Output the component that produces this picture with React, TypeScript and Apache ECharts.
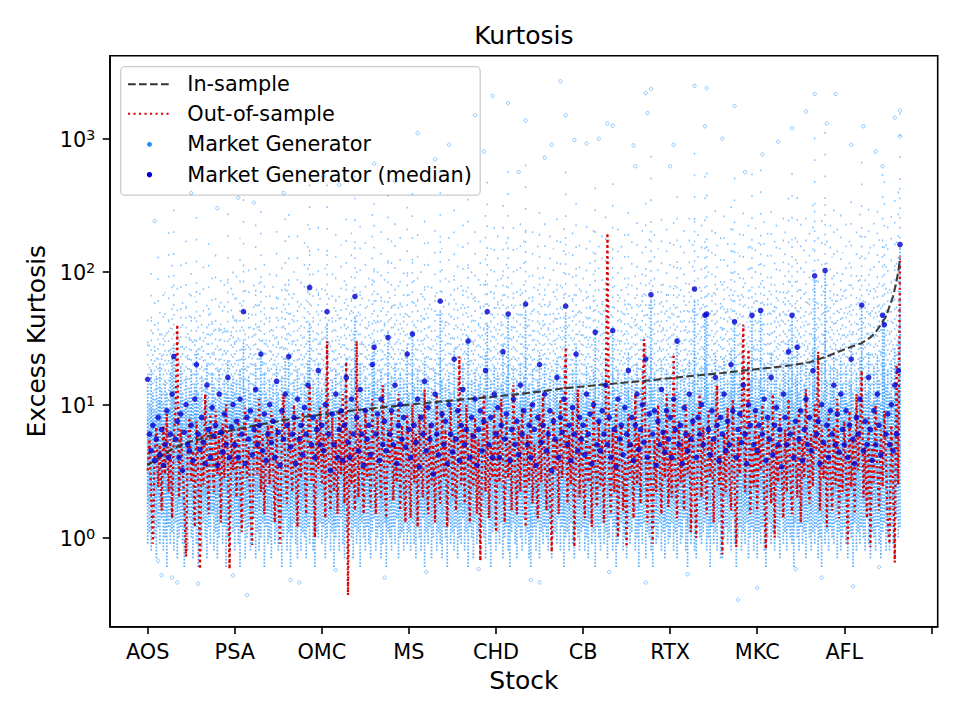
import React, { useEffect, useRef } from "react";
import * as echarts from "echarts";

const FONT = "'DejaVu Sans', 'Liberation Sans', sans-serif";

// x ticks: stock names at every 50th stock
const tickStocks = ["AOS", "PSA", "OMC", "MS", "CHD", "CB", "RTX", "MKC", "AFL"];
const tickIndex = [0, 50, 100, 150, 200, 250, 300, 350, 400];
const xTickValues = [0, 50, 100, 150, 200, 250, 300, 350, 400, 450];
const yMajor = [1, 10, 100, 1000];
const yMinor = [0.3, 0.4, 0.5, 0.6, 0.7, 0.8, 0.9, 2, 3, 4, 5, 6, 7, 8, 9, 20, 30, 40, 50, 60, 70, 80, 90, 200, 300, 400, 500, 600, 700, 800, 900, 2000, 3000, 4000];

// In-sample excess kurtosis (stocks are sorted by it) : [stock index, value]
const inSample: [number, number][] = [
  [0, 3.5], [5, 3.9], [10, 4.3], [15, 4.7], [20, 5.0], [25, 5.3], [30, 5.5], [35, 5.8], [40, 6.0], [45, 6.3],
  [50, 6.5], [60, 6.9], [70, 7.3], [80, 7.7], [90, 8.1], [100, 8.4], [110, 8.8], [120, 9.1], [130, 9.4], [140, 9.7],
  [150, 10.0], [160, 10.3], [170, 10.6], [180, 10.9], [190, 11.2], [200, 11.5], [210, 11.9], [220, 12.3], [230, 12.8], [240, 13.3],
  [250, 13.7], [260, 14.1], [270, 14.5], [280, 14.9], [290, 15.3], [300, 15.8], [310, 16.3], [320, 16.8], [330, 17.3], [340, 17.9],
  [350, 18.5], [360, 19.1], [370, 19.8], [380, 20.8], [390, 23.0], [395, 24.5], [400, 26], [405, 27.5], [410, 29], [415, 32],
  [418, 35], [421, 40], [424, 46], [426, 55], [428, 65], [430, 85], [431, 100], [432, 125],
];

// Out-of-sample excess kurtosis, one per stock (433)
const outOfSample = [
  3.2, 5.5, 2.0, 0.9, 4.5, 6.8, 2.4, 5.0, 1.6, 7.0,
  3.0, 8.5, 2.2, 5.5, 1.4, 6.0, 9.0, 40, 2.0, 6.5,
  3.5, 1.8, 0.72, 5.0, 8.0, 2.6, 4.5, 1.2, 7.5, 3.0,
  0.58, 6.0, 2.5, 12, 3.8, 1.5, 8.5, 4.2, 2.2, 9.0,
  3.0, 5.8, 1.3, 7.2, 2.8, 10, 4.0, 0.58, 6.5, 3.2,
  5.5, 2.0, 7.8, 3.5, 1.1, 6.2, 9.5, 2.8, 4.8, 1.6,
  0.88, 5.2, 8.0, 3.0, 11, 2.2, 6.0, 1.5, 4.2, 7.0,
  2.5, 9.0, 3.8, 1.3, 6.8, 2.0, 0.9, 5.5, 12, 3.2,
  1.8, 7.5, 4.0, 2.2, 10, 3.5, 1.2, 6.2, 2.8, 8.8,
  4.5, 1.5, 6.0, 14, 2.6, 5.0, 1.0, 7.8, 3.3, 9.5,
  2.5, 6.0, 1.4, 30, 3.0, 1.6, 8.0, 2.2, 5.5, 1.5,
  9.0, 3.0, 12, 1.8, 21, 0.37, 6.5, 2.5, 4.8, 1.6,
  30, 2.0, 7.0, 3.5, 1.5, 9.5, 2.8, 5.2, 1.7, 11,
  3.2, 1.5, 8.0, 4.0, 2.0, 14, 2.6, 1.4, 6.5, 3.5,
  9.0, 1.9, 5.0, 2.6, 12, 1.6, 7.0, 3.0, 1.3, 8.5,
  3.5, 1.4, 10, 2.6, 6.0, 1.2, 8.5, 3.5, 2.0, 13,
  4.0, 1.5, 7.2, 2.5, 5.0, 1.3, 12, 3.0, 1.8, 9.0,
  2.8, 6.5, 1.2, 4.8, 9.5, 2.0, 5.8, 1.6, 3.5, 23,
  2.5, 7.0, 1.8, 10, 3.6, 1.3, 6.2, 2.4, 8.0, 1.5,
  5.5, 0.67, 4.0, 12, 2.2, 7.5, 1.4, 5.0, 2.8, 9.0,
  1.1, 6.5, 2.6, 11, 3.5, 1.3, 8.0, 2.8, 5.5, 1.6,
  14, 3.2, 1.5, 7.0, 2.2, 9.5, 4.0, 1.2, 6.0, 2.5,
  10, 1.8, 5.0, 3.0, 1.4, 8.5, 2.6, 12, 3.5, 1.6,
  6.8, 2.2, 0.78, 9.0, 3.2, 5.5, 1.5, 11, 2.8, 4.6,
  27, 1.8, 6.0, 2.5, 9.0, 0.85, 4.5, 13, 2.0, 6.5,
  3.0, 1.4, 8.0, 2.6, 5.0, 1.2, 11, 3.5, 1.7, 7.5,
  2.4, 5.5, 1.3, 9.0, 195, 3.0, 1.5, 6.5, 2.2, 10,
  1.0, 4.5, 7.0, 1.6, 3.8, 0.85, 8.5, 2.8, 5.2, 1.4,
  12, 2.5, 6.0, 1.8, 9.0, 31, 4.0, 1.3, 7.0, 2.6,
  0.9, 5.5, 2.2, 10, 3.6, 1.5, 6.5, 2.8, 12, 1.7,
  4.5, 2.0, 24, 3.2, 1.4, 7.5, 2.6, 5.5, 1.6, 10,
  3.0, 6.2, 1.1, 8.5, 2.4, 1.0, 5.0, 12, 2.0, 6.8,
  3.5, 1.5, 9.0, 2.8, 5.5, 1.3, 7.0, 14, 2.5, 4.2,
  0.75, 6.0, 2.2, 9.5, 3.2, 1.6, 11, 2.6, 0.85, 5.8,
  3.0, 8.0, 40, 2.2, 6.5, 26, 1.5, 4.8, 2.4, 9.0,
  1.6, 6.0, 3.2, 10, 2.0, 0.82, 7.5, 4.0, 1.8, 12,
  1.0, 5.0, 2.6, 8.5, 3.5, 1.4, 6.5, 2.2, 11, 3.0,
  1.5, 7.0, 4.2, 2.0, 9.5, 1.3, 5.5, 2.8, 13, 3.6,
  1.8, 6.0, 2.4, 10, 4.5, 25, 1.6, 7.0, 2.8, 5.2,
  1.2, 8.5, 3.0, 1.6, 6.8, 2.5, 11, 1.4, 4.5, 2.2,
  7.5, 3.0, 0.9, 9.0, 2.4, 5.5, 1.5, 12, 3.2, 6.0,
  18, 2.0, 4.8, 1.4, 8.0, 0.85, 5.0, 2.6, 10, 3.2,
  1.6, 6.5, 2.4, 9.0, 3.5, 1.3, 0.9, 7.0, 2.8, 0.65,
  20, 2.5, 130,
];

// Market Generator median per stock (433)
const generatorMedian = [
  15.5, 6.0, 4.5, 7.0, 3.8, 5.5, 8.0, 4.2, 6.5, 3.5,
  5.0, 9.0, 4.0, 6.0, 12, 23, 5.5, 7.5, 4.0, 8.5,
  3.2, 6.2, 10, 5.0, 4.5, 7.0, 3.8, 11, 20, 6.0,
  4.6, 8.0, 5.2, 3.6, 14, 6.5, 4.0, 9.5, 5.8, 7.0,
  3.5, 12, 6.2, 4.4, 8.5, 5.0, 16, 4.0, 6.8, 10,
  5.0, 7.5, 4.0, 11, 6.0, 50, 3.6, 8.0, 5.5, 9.0,
  4.2, 6.5, 13, 5.0, 7.0, 24, 4.5, 8.5, 3.8, 6.0,
  10, 5.2, 7.5, 4.0, 15, 6.2, 3.5, 9.0, 5.5, 12,
  7.0, 23, 4.8, 6.0, 8.0, 3.6, 11, 5.5, 7.0, 4.2,
  9.5, 6.0, 14, 76, 5.0, 8.0, 4.0, 6.5, 18, 5.0,
  7.0, 4.5, 10, 50, 6.0, 3.2, 8.5, 5.0, 12, 4.0,
  6.5, 9.0, 3.8, 7.0, 16, 5.2, 4.0, 11, 6.0, 65,
  8.0, 4.5, 13, 6.0, 3.5, 9.0, 5.5, 7.0, 4.2, 20,
  27, 6.0, 8.5, 3.8, 11, 5.0, 7.5, 4.5, 32, 6.0,
  9.0, 5.0, 14, 3.6, 7.0, 10, 5.5, 8.0, 4.8, 24,
  6.5, 4.0, 34, 7.0, 5.2, 11, 3.4, 8.0, 6.0, 15,
  4.5, 9.5, 5.5, 7.0, 3.0, 12, 6.0, 4.2, 60, 8.5,
  5.0, 7.5, 3.6, 10, 6.0, 4.4, 22, 5.5, 9.0, 3.8,
  7.0, 13, 5.0, 6.5, 30, 4.0, 8.0, 5.8, 11, 3.5,
  6.5, 9.0, 4.5, 7.5, 18, 50, 5.0, 8.0, 4.0, 12,
  6.0, 9.5, 4.0, 7.0, 25, 5.5, 8.5, 48, 3.8, 6.5,
  11, 5.0, 7.5, 4.2, 14, 6.0, 9.0, 57, 5.0, 7.0,
  4.0, 10, 6.5, 3.5, 8.0, 20, 5.2, 7.0, 12, 4.5,
  6.0, 9.0, 3.2, 7.5, 5.5, 16, 4.0, 8.0, 6.2, 11,
  55, 5.0, 7.0, 3.8, 9.5, 6.0, 24, 4.5, 8.0, 5.5,
  7.0, 4.2, 12, 6.0, 8.5, 3.6, 10, 35, 5.0, 7.5,
  4.5, 9.0, 6.0, 14, 5.0, 8.0, 4.0, 36, 6.5, 3.4,
  11, 5.5, 7.0, 4.2, 9.5, 6.0, 18, 5.0, 8.0, 3.8,
  7.0, 12, 4.6, 6.5, 10, 5.2, 22, 4.0, 8.5, 67,
  6.0, 9.0, 3.5, 7.5, 5.0, 13, 6.2, 4.4, 9.0, 5.5,
  8.0, 4.0, 11, 6.5, 30, 5.0, 7.0, 3.6, 9.5, 6.0,
  4.5, 12, 5.5, 7.5, 74, 4.0, 8.0, 6.0, 10, 5.0,
  47, 48, 6.5, 4.2, 9.0, 5.5, 16, 7.0, 3.8, 8.0,
  6.0, 12, 4.5, 7.5, 5.0, 20, 9.0, 42, 4.0, 6.5,
  8.5, 5.2, 14, 6.0, 3.6, 10, 7.0, 47, 5.0, 9.0,
  4.5, 7.0, 51, 6.0, 11, 3.8, 8.0, 5.5, 16, 4.2,
  7.0, 9.5, 5.0, 6.5, 3.4, 12, 8.0, 5.0, 25, 6.0,
  47, 4.0, 7.5, 27, 5.5, 9.0, 3.8, 6.5, 11, 5.0,
  8.0, 4.5, 18, 93, 6.0, 7.5, 3.6, 10, 5.2, 102,
  7.0, 4.0, 9.0, 6.0, 14, 5.0, 8.5, 4.4, 12, 6.5,
  5.0, 9.0, 4.0, 7.0, 22, 5.5, 3.6, 8.0, 6.0, 11,
  56, 4.5, 7.5, 5.0, 16, 6.5, 3.8, 9.0, 5.0, 12,
  7.0, 4.2, 47, 40, 6.0, 8.5, 5.0, 10, 4.5, 14,
  6.0, 18, 160,
];

// Market Generator samples per stock: lowest sample, top of the dense band, highest sample
const cloudLow = [
  0.9, 1.1, 0.8, 1.3, 1.0, 0.7, 1.2, 0.9, 1.4, 0.8,
  1.0, 0.6, 1.2, 0.9, 1.1, 0.8, 1.3, 0.7, 1.0, 1.2,
  0.9, 0.6, 1.1, 0.8, 1.4, 1.0, 0.7, 1.2, 0.9, 0.6,
  1.1, 0.8, 1.3, 1.0, 0.7, 1.2, 0.9, 1.5, 0.8, 1.1,
  0.7, 1.0, 1.3, 0.9, 1.2, 0.6, 1.0, 0.8, 1.4, 1.1,
  0.8, 1.2, 0.9, 0.6, 1.1, 1.3, 0.7, 1.0, 1.2, 0.8,
  0.9, 1.4, 0.7, 1.1, 0.8, 1.0, 1.3, 0.6, 1.2, 0.9,
  1.0, 0.7, 1.3, 0.9, 1.1, 0.8, 1.2, 0.6, 1.0, 1.4,
  0.8, 1.1, 0.6, 1.0, 1.3, 0.9, 0.7, 1.2, 0.8, 1.1,
  1.0, 0.7, 1.2, 0.9, 1.4, 0.8, 0.6, 1.1, 1.0, 1.3,
  0.9, 1.2, 0.7, 1.0, 1.3, 0.8, 1.1, 0.6, 1.0, 1.2,
  0.8, 1.4, 0.9, 0.7, 1.1, 0.8, 1.3, 1.0, 0.7, 1.2,
  0.9, 1.1, 0.6, 1.3, 1.0, 0.8, 1.2, 0.9, 0.7, 1.1,
  1.4, 0.8, 1.0, 1.2, 0.7, 0.9, 1.3, 0.6, 1.1, 1.0,
  0.8, 1.2, 0.9, 1.4, 0.7, 1.0, 1.1, 0.8, 1.3, 0.9,
  1.1, 0.8, 1.3, 0.9, 0.7, 1.2, 1.0, 0.8, 1.4, 0.6,
  1.1, 0.9, 1.2, 0.7, 1.0, 1.3, 0.8, 1.1, 0.9, 0.7,
  1.2, 1.0, 0.6, 1.3, 0.9, 1.1, 0.8, 1.2, 0.7, 1.0,
  0.9, 1.4, 0.8, 1.1, 0.6, 1.2, 1.0, 0.7, 1.3, 0.9,
  1.1, 0.8, 1.2, 1.0, 0.7, 1.4, 0.9, 0.6, 1.1, 1.2,
  0.8, 1.1, 0.9, 1.3, 0.7, 1.0, 1.2, 0.8, 0.6, 1.1,
  1.3, 0.9, 0.7, 1.2, 1.0, 0.8, 1.4, 0.9, 1.1, 0.7,
  0.6, 1.0, 1.2, 0.8, 1.3, 0.7, 1.1, 0.9, 1.2, 1.0,
  0.8, 1.3, 0.7, 1.0, 1.1, 0.9, 1.4, 0.8, 1.2, 0.6,
  1.0, 1.1, 0.8, 1.3, 0.9, 0.7, 1.2, 1.0, 0.8, 1.1,
  1.2, 0.8, 1.0, 0.7, 1.3, 0.9, 1.1, 0.6, 1.2, 1.0,
  0.8, 1.3, 0.9, 1.1, 0.7, 1.0, 1.4, 0.8, 1.2, 0.6,
  0.9, 1.1, 1.3, 0.8, 1.0, 0.7, 1.2, 0.9, 1.1, 1.4,
  0.8, 1.0, 0.6, 1.2, 0.9, 1.3, 0.7, 1.1, 1.0, 0.8,
  0.6, 1.2, 0.9, 1.0, 1.3, 0.8, 1.1, 0.7, 1.2, 0.9,
  1.0, 1.3, 0.8, 1.1, 0.7, 1.2, 0.9, 1.0, 1.4, 0.8,
  0.6, 1.1, 0.9, 1.3, 0.8, 0.7, 1.2, 1.0, 0.9, 1.1,
  1.3, 0.8, 1.0, 0.6, 1.2, 0.9, 1.1, 0.8, 1.3, 0.7,
  0.7, 1.0, 1.2, 0.9, 1.1, 0.8, 1.4, 0.9, 0.6, 1.0,
  1.2, 0.8, 1.1, 0.9, 1.3, 0.7, 1.0, 1.2, 0.8, 1.1,
  0.7, 1.1, 0.9, 1.2, 0.8, 0.6, 1.0, 1.3, 0.9, 1.1,
  0.8, 1.2, 1.0, 0.7, 1.4, 0.9, 1.1, 0.8, 1.2, 1.0,
  0.9, 0.6, 1.3, 1.0, 0.8, 1.2, 0.9, 1.1, 0.7, 1.3,
  1.0, 0.8, 1.1, 0.9, 1.2, 0.7, 1.0, 0.6, 1.3, 0.9,
  1.1, 0.8, 1.2, 1.0, 0.9, 1.3, 0.7, 1.1, 0.8, 1.0,
  1.2, 0.9, 0.7, 1.1, 1.0, 0.6, 1.3, 0.8, 1.1, 0.9,
  1.2, 1.0, 0.8, 1.4, 0.9, 0.7, 1.1, 1.0, 0.8, 1.2,
  0.9, 0.7, 1.1, 1.3, 0.8, 1.0, 0.8, 1.2, 0.9, 0.7,
  1.4, 1.0, 1.2,
];

const cloudHigh = [
  14, 10, 18, 12, 9, 16, 11, 20, 13, 10,
  15, 12, 9, 17, 22, 28, 11, 14, 10, 19,
  12, 9, 16, 11, 13, 18, 10, 14, 25, 12,
  11, 16, 9, 13, 20, 12, 10, 17, 14, 11,
  9, 18, 13, 10, 15, 12, 21, 11, 14, 16,
  12, 15, 10, 18, 11, 30, 13, 9, 16, 12,
  10, 14, 20, 11, 13, 25, 10, 17, 12, 9,
  15, 11, 14, 10, 19, 12, 9, 16, 11, 22,
  13, 24, 10, 12, 15, 9, 18, 11, 14, 10,
  16, 12, 21, 40, 11, 15, 10, 13, 20, 12,
  13, 10, 16, 40, 12, 9, 15, 11, 18, 10,
  12, 16, 9, 14, 22, 11, 10, 18, 13, 45,
  15, 10, 20, 12, 9, 16, 11, 14, 10, 24,
  30, 12, 15, 9, 18, 11, 14, 10, 35, 12,
  16, 11, 20, 9, 13, 17, 11, 15, 10, 28,
  12, 10, 35, 14, 11, 18, 9, 15, 12, 22,
  10, 16, 11, 13, 9, 18, 12, 10, 50, 15,
  11, 14, 9, 17, 12, 10, 26, 11, 16, 9,
  13, 20, 11, 12, 32, 10, 15, 12, 18, 9,
  14, 16, 10, 13, 24, 40, 11, 15, 10, 19,
  13, 17, 11, 14, 28, 12, 16, 45, 10, 13,
  19, 11, 15, 10, 20, 12, 16, 50, 11, 14,
  10, 18, 13, 9, 15, 24, 11, 14, 20, 10,
  13, 17, 9, 15, 12, 22, 10, 16, 13, 19,
  48, 11, 14, 10, 18, 12, 28, 10, 15, 12,
  14, 10, 19, 12, 16, 9, 18, 36, 11, 15,
  10, 17, 13, 22, 12, 16, 10, 38, 13, 9,
  18, 12, 15, 10, 17, 13, 24, 11, 16, 9,
  14, 20, 11, 13, 18, 12, 28, 10, 16, 60,
  13, 17, 9, 15, 11, 21, 13, 10, 18, 12,
  16, 10, 20, 13, 32, 12, 15, 9, 18, 13,
  10, 21, 12, 15, 60, 10, 17, 13, 19, 11,
  45, 46, 14, 10, 18, 12, 24, 15, 9, 16,
  13, 22, 10, 15, 12, 26, 18, 42, 10, 14,
  17, 12, 23, 13, 9, 19, 15, 45, 11, 18,
  11, 15, 48, 13, 20, 9, 17, 12, 24, 10,
  15, 19, 11, 14, 9, 21, 17, 12, 30, 13,
  46, 10, 16, 30, 12, 19, 9, 14, 21, 11,
  17, 10, 26, 85, 13, 16, 9, 20, 12, 95,
  15, 10, 19, 13, 24, 11, 18, 10, 22, 14,
  12, 19, 10, 15, 28, 12, 9, 17, 13, 22,
  55, 11, 16, 12, 24, 14, 10, 19, 12, 23,
  15, 10, 46, 40, 14, 18, 12, 21, 11, 26,
  14, 30, 150,
];

const cloudTop = [
  60, 35, 110, 45, 80, 30, 150, 55, 40, 95,
  70, 45, 200, 38, 120, 300, 50, 85, 42, 140,
  60, 35, 180, 48, 75, 110, 40, 65, 260, 55,
  90, 45, 130, 35, 70, 220, 50, 100, 42, 160,
  38, 75, 120, 55, 90, 48, 350, 40, 85, 130,
  70, 120, 45, 180, 60, 400, 85, 40, 140, 55,
  48, 95, 250, 60, 110, 320, 42, 160, 75, 38,
  130, 55, 90, 45, 210, 70, 36, 150, 62, 280,
  85, 300, 50, 72, 140, 40, 190, 58, 105, 46,
  170, 66, 240, 500, 60, 130, 44, 88, 230, 70,
  90, 45, 150, 500, 70, 38, 130, 55, 200, 48,
  75, 160, 40, 110, 280, 60, 50, 210, 85, 600,
  140, 52, 240, 70, 40, 170, 58, 120, 46, 300,
  350, 65, 140, 42, 220, 55, 115, 48, 400, 72,
  180, 60, 260, 44, 100, 190, 58, 135, 50, 330,
  80, 46, 420, 110, 60, 200, 40, 140, 75, 260,
  50, 170, 62, 95, 38, 230, 85, 48, 650, 150,
  58, 120, 42, 190, 80, 46, 320, 64, 160, 40,
  100, 250, 55, 90, 380, 44, 140, 70, 220, 38,
  115, 180, 50, 105, 290, 550, 60, 150, 48, 240,
  100, 200, 55, 120, 350, 80, 170, 700, 45, 110,
  240, 60, 150, 48, 260, 85, 180, 800, 62, 130,
  50, 220, 95, 40, 160, 320, 58, 125, 260, 48,
  105, 200, 40, 150, 75, 280, 50, 175, 95, 230,
  650, 60, 140, 46, 210, 80, 380, 52, 165, 90,
  120, 46, 250, 75, 180, 40, 230, 500, 60, 160,
  50, 200, 90, 300, 70, 185, 48, 550, 100, 40,
  240, 72, 160, 50, 210, 95, 320, 62, 175, 42,
  130, 270, 58, 110, 230, 82, 380, 48, 190, 900,
  100, 210, 42, 150, 64, 290, 105, 50, 240, 80,
  170, 50, 270, 100, 420, 80, 160, 42, 230, 110,
  55, 300, 76, 170, 1000, 48, 210, 95, 260, 62,
  600, 650, 150, 50, 230, 85, 340, 165, 40, 200,
  105, 310, 52, 175, 78, 360, 240, 600, 50, 140,
  215, 80, 330, 110, 42, 260, 160, 650, 66, 250,
  70, 180, 700, 120, 280, 40, 220, 90, 330, 55,
  190, 260, 72, 160, 44, 300, 230, 85, 420, 115,
  640, 50, 200, 430, 95, 270, 42, 150, 300, 66,
  220, 52, 380, 1200, 120, 200, 45, 290, 90, 1300,
  190, 55, 260, 130, 350, 70, 240, 52, 320, 140,
  90, 270, 50, 190, 400, 100, 42, 230, 120, 330,
  800, 70, 210, 95, 360, 165, 55, 280, 90, 350,
  200, 60, 620, 560, 180, 260, 95, 320, 70, 450,
  200, 520, 1600,
];

// isolated Market Generator samples far from the bulk: [stock index, value]
const isolatedSamples: [number, number][] = [
  [321, 2400], [337, 1760], [320, 1240], [383, 2170], [395, 2170], [370, 1200], [390, 1300], [353, 760],
  [432, 1630], [429, 1440], [432, 1040], [411, 1240], [422, 620], [237, 2700], [198, 2100], [207, 1850],
  [289, 2370], [286, 2200], [264, 1300], [314, 2500], [193, 800], [217, 1370], [228, 720], [240, 1500],
  [245, 980], [252, 920], [259, 1000], [267, 1250], [279, 890], [287, 1560], [155, 1100], [173, 900],
  [130, 650], [101, 520], [52, 360], [61, 330], [78, 390], [25, 390], [4, 240], [40, 300],
  [110, 450], [142, 480], [165, 700], [188, 1500], [302, 900], [330, 1000], [362, 950], [378, 1600],
  [404, 900], [418, 800], [300, 620], [343, 560], [280, 620], [213, 560], [232, 900],
  [57, 0.37], [17, 0.46], [339, 0.34], [14, 0.5], [87, 0.46], [220, 0.48], [225, 0.46], [286, 0.46],
  [350, 0.42], [405, 0.43], [387, 0.5], [136, 0.5], [108, 0.57], [29, 0.45], [8, 0.52], [6, 0.67],
  [49, 0.52], [82, 0.48], [160, 0.55], [190, 0.58], [265, 0.55], [310, 0.53], [372, 0.58], [420, 0.6],
];

const X_MIN = -21.65;
const X_MAX = 453.65;
const Y_MIN = 0.2138;
const Y_MAX = 4207;
const CLOUD = "rgba(30,144,255,";

export default function App() {
  const ref = useRef<HTMLDivElement>(null);

  useEffect(() => {
    if (!ref.current) return;
    const chart = echarts.init(ref.current, undefined, { renderer: "svg" });

    const cloudData = cloudLow.map((lo, i) => [i, lo, cloudHigh[i], cloudTop[i]]);

    const option: any = {
      animation: false,
      backgroundColor: "#ffffff",
      textStyle: { fontFamily: FONT },
      grid: {
        left: 110,
        right: 22.3,
        top: 55.7,
        bottom: 93.3,
        show: true,
        borderColor: "#000",
        borderWidth: 1.6,
        backgroundColor: "transparent",
      },
      xAxis: {
        type: "value",
        min: X_MIN,
        max: X_MAX,
        splitLine: { show: false },
        axisLine: { show: true, onZero: false, lineStyle: { color: "#000", width: 1.6 } },
        axisTick: { show: true, customValues: xTickValues, length: 7.3, lineStyle: { color: "#000", width: 1.6 } },
        axisLabel: {
          customValues: tickIndex,
          margin: 14.6,
          color: "#000",
          fontSize: 20.8,
          fontFamily: FONT,
          formatter: (v: number) => {
            const k = tickIndex.indexOf(Math.round(v));
            return k >= 0 ? tickStocks[k] : "";
          },
        },
        name: "Stock",
        nameLocation: "middle",
        nameGap: 41,
        nameTextStyle: { fontSize: 25, color: "#000", fontFamily: FONT },
      },
      yAxis: {
        type: "log",
        logBase: 10,
        min: Y_MIN,
        max: Y_MAX,
        position: "left",
        splitLine: { show: false },
        minorTick: { show: false },
        axisLine: { show: true, onZero: false, lineStyle: { color: "#000", width: 1.6 } },
        axisTick: { show: true, customValues: yMajor, length: 7.3, lineStyle: { color: "#000", width: 1.6 } },
        axisLabel: {
          customValues: yMajor,
          margin: 14.6,
          color: "#000",
          formatter: (v: number) => `{b|10}{s|${Math.round(Math.log10(v))}}`,
          rich: {
            b: { fontSize: 20.8, fontFamily: FONT, color: "#000", verticalAlign: "bottom" },
            s: { fontSize: 14.6, fontFamily: FONT, color: "#000", verticalAlign: "bottom", padding: [0, 0, 8, 0] },
          },
        },
        name: "Excess Kurtosis",
        nameLocation: "middle",
        nameGap: 59,
        nameTextStyle: { fontSize: 25, color: "#000", fontFamily: FONT },
      },
      series: [
        {
          name: "Market Generator",
          type: "custom",
          z: 1,
          clip: true,
          encode: { x: 0, y: [1, 2, 3] },
          data: cloudData,
          renderItem: (_params: any, api: any) => {
            const x = api.value(0);
            const lo = api.value(1);
            const hi = api.value(2);
            const top = api.value(3);
            const pLo = api.coord([x, lo]);
            const pHi = api.coord([x, hi]);
            const pMid = api.coord([x, Math.sqrt(hi * top)]);
            const pTop = api.coord([x, top]);
            const c1 = api.coord([x, Math.pow(lo, 0.75) * Math.pow(hi, 0.25)]);
            const c2 = api.coord([x, Math.pow(lo, 0.2) * Math.pow(hi, 0.8)]);
            return {
              type: "group",
              children: [
                {
                  type: "line",
                  shape: { x1: pLo[0], y1: pLo[1], x2: pHi[0], y2: pHi[1] },
                  style: { stroke: CLOUD + "0.7)", lineWidth: 1.7, lineDash: [1.8, 1.5] },
                },
                {
                  type: "line",
                  shape: { x1: c1[0], y1: c1[1], x2: c2[0], y2: c2[1] },
                  style: { stroke: CLOUD + "0.55)", lineWidth: 1.6, lineDash: [1.8, 2.0] },
                },
                {
                  type: "line",
                  shape: { x1: pHi[0], y1: pHi[1], x2: pMid[0], y2: pMid[1] },
                  style: { stroke: CLOUD + "0.55)", lineWidth: 1.4, lineDash: [1.8, 8] },
                },
                {
                  type: "line",
                  shape: { x1: pMid[0], y1: pMid[1], x2: pTop[0], y2: pTop[1] },
                  style: { stroke: CLOUD + "0.55)", lineWidth: 1.4, lineDash: [1.8, 20] },
                },
              ],
            };
          },
        },
        {
          name: "Market Generator isolated",
          type: "scatter",
          z: 1,
          symbol: "circle",
          symbolSize: 3.4,
          data: isolatedSamples,
          itemStyle: { color: "rgba(255,255,255,0)", borderColor: CLOUD + "0.65)", borderWidth: 0.9 },
        },
        {
          name: "Out-of-sample",
          type: "line",
          z: 2,
          symbol: "none",
          showSymbol: false,
          data: outOfSample.map((v, i) => [i, v]),
          lineStyle: { color: "#e00000", width: 2.3, type: [2.2, 3.2] },
        },
        {
          name: "In-sample",
          type: "line",
          z: 3,
          symbol: "none",
          showSymbol: false,
          data: inSample,
          lineStyle: { color: "#333333", width: 2.1, type: [7.7, 3.3], opacity: 0.95 },
        },
        {
          name: "Market Generator (median)",
          type: "scatter",
          z: 4,
          symbol: "circle",
          symbolSize: 5.6,
          data: generatorMedian.map((v, i) => [i, v]),
          itemStyle: { color: "#0000d0" },
        },
      ],
      graphic: [
        {
          id: "title",
          type: "text",
          x: 523.9,
          y: 35.5,
          style: {
            text: "Kurtosis",
            fontSize: 25,
            fontFamily: FONT,
            fill: "#000",
            align: "center",
            verticalAlign: "middle",
          },
        },
        {
          id: "legend",
          type: "group",
          z: 100,
          children: [
            {
              type: "rect",
              shape: { x: 120.7, y: 66.7, width: 359.5, height: 128.5, r: 4 },
              style: { fill: "rgba(255,255,255,0.8)", stroke: "#cccccc", lineWidth: 1.25 },
            },
            {
              type: "line",
              shape: { x1: 128, y1: 84.3, x2: 170, y2: 84.3 },
              style: { stroke: "#333333", lineWidth: 2.1, lineDash: [7.7, 3.3] },
            },
            {
              type: "line",
              shape: { x1: 128, y1: 113.7, x2: 170, y2: 113.7 },
              style: { stroke: "#e00000", lineWidth: 2.1, lineDash: [2.1, 3.4] },
            },
            { type: "circle", shape: { cx: 149.5, cy: 144.3, r: 2.5 }, style: { fill: "#1e90ff" } },
            { type: "circle", shape: { cx: 149.5, cy: 174.7, r: 2.7 }, style: { fill: "#0000d0" } },
            {
              type: "text", x: 187.3, y: 84.3,
              style: { text: "In-sample", fontSize: 20.8, fontFamily: FONT, fill: "#000", verticalAlign: "middle" },
            },
            {
              type: "text", x: 187.3, y: 113.7,
              style: { text: "Out-of-sample", fontSize: 20.8, fontFamily: FONT, fill: "#000", verticalAlign: "middle" },
            },
            {
              type: "text", x: 187.3, y: 144.3,
              style: { text: "Market Generator", fontSize: 20.8, fontFamily: FONT, fill: "#000", verticalAlign: "middle" },
            },
            {
              type: "text", x: 187.3, y: 174.7,
              style: { text: "Market Generator (median)", fontSize: 20.8, fontFamily: FONT, fill: "#000", verticalAlign: "middle" },
            },
          ],
        },
      ],
    };

    chart.setOption(option);

    // minor ticks of the log y axis (2..9 of every decade), positioned through the chart's own scales
    try {
      const px = chart.convertToPixel({ xAxisIndex: 0 }, X_MIN) as number;
      const minorTicks = yMinor.map((v) => {
        const py = chart.convertToPixel({ yAxisIndex: 0 }, v) as number;
        return {
          type: "line",
          shape: { x1: px - 4.4, y1: py, x2: px, y2: py },
          style: { stroke: "#000", lineWidth: 1.3 },
        };
      });
      chart.setOption({
        graphic: [{ id: "minorTicks", type: "group", z: 50, children: minorTicks }],
      });
    } catch (e) {
      // keep the chart even if the ticks cannot be placed
    }

    return () => chart.dispose();
  }, []);

  return (
    <div
      ref={ref}
      style={{ position: "fixed", left: 0, top: 0, width: 960, height: 720, background: "#fff" }}
    />
  );
}
